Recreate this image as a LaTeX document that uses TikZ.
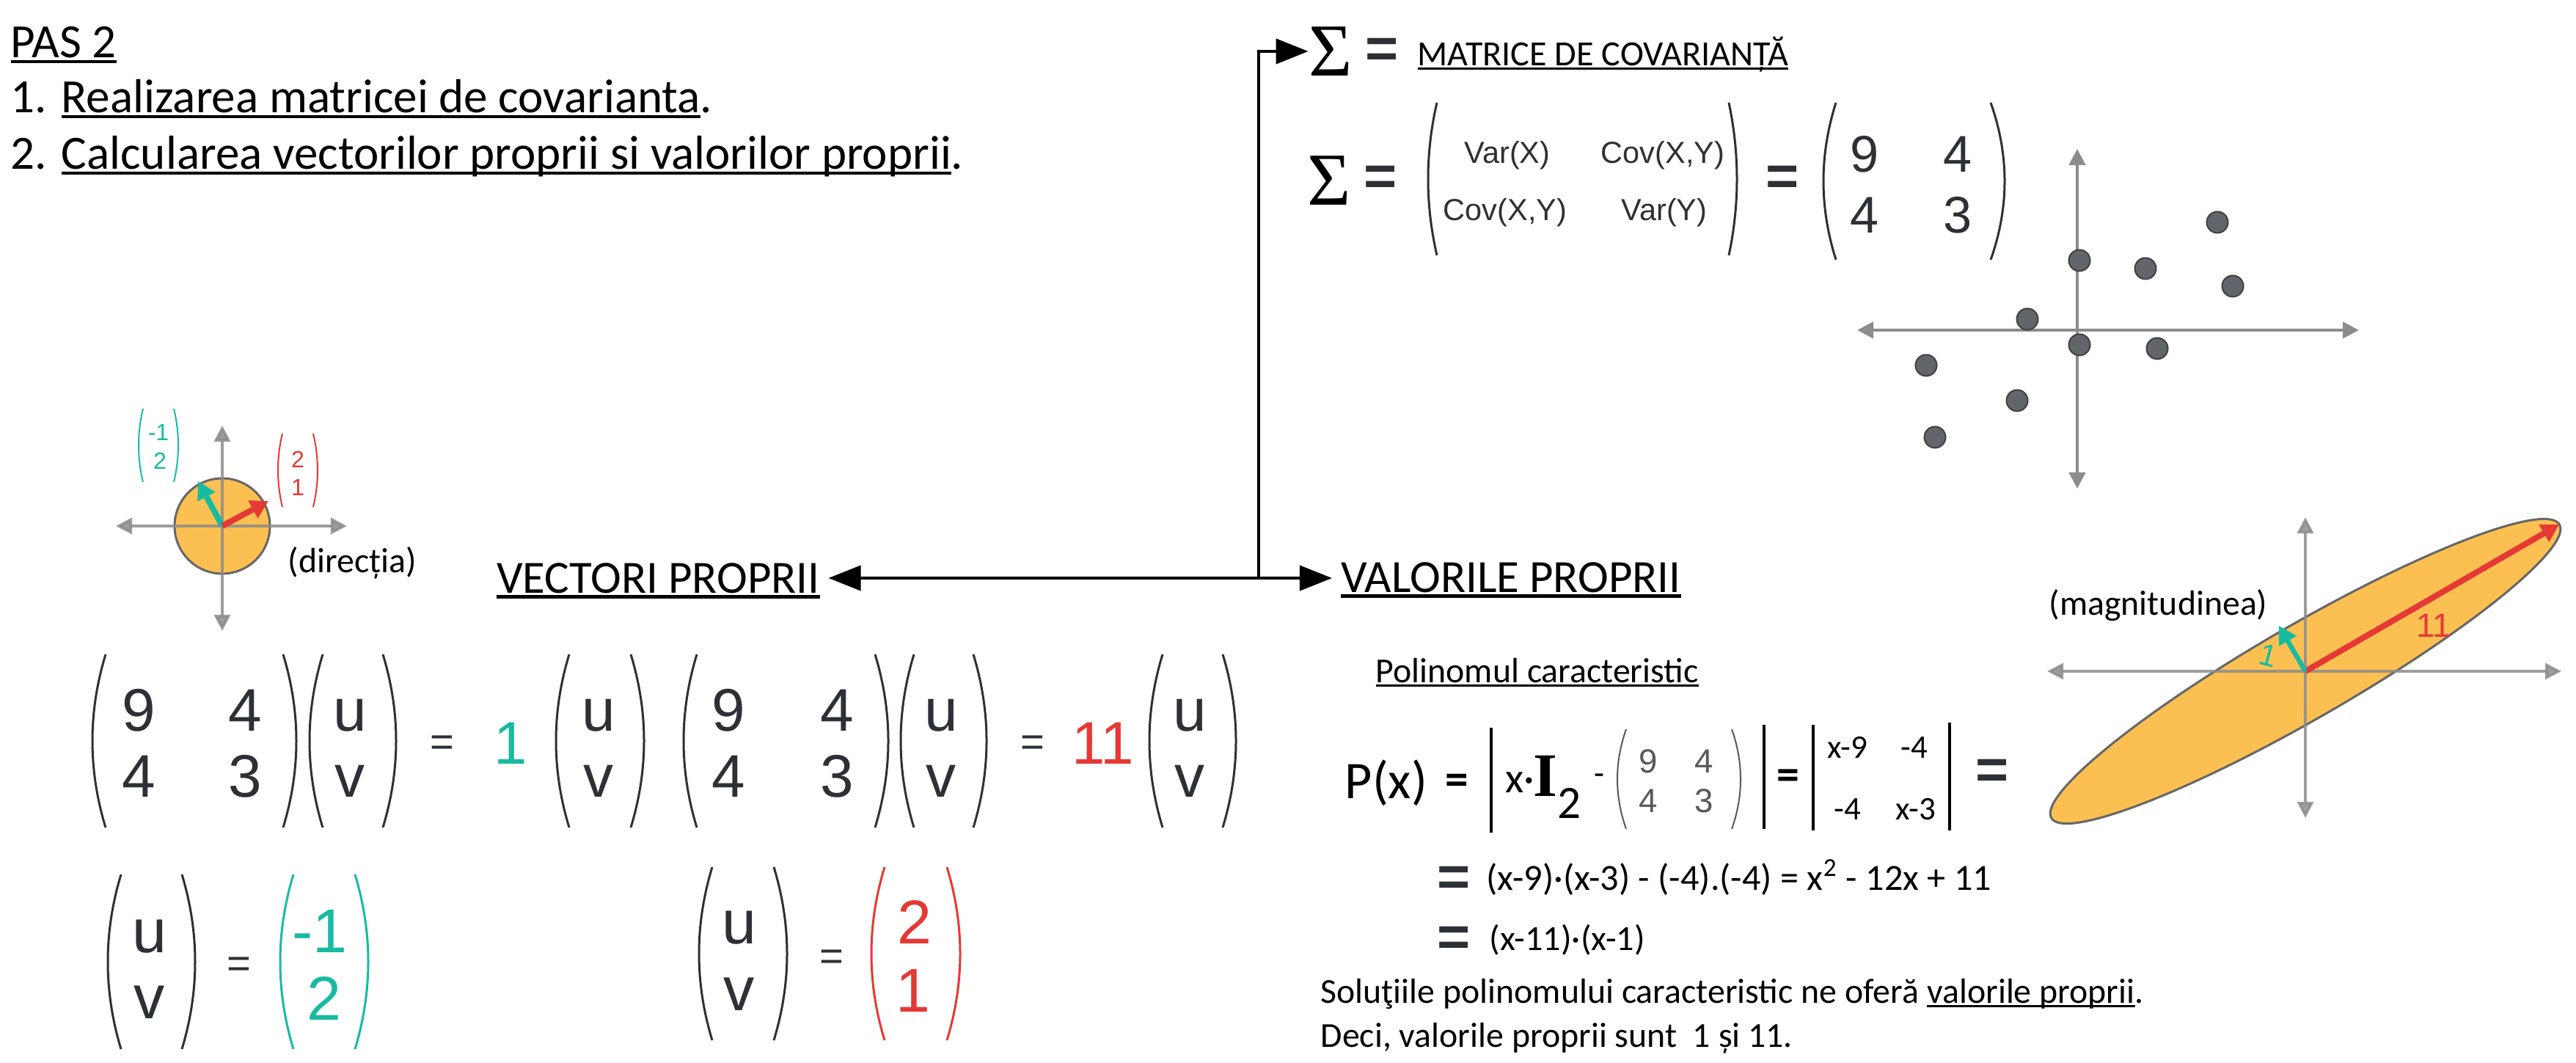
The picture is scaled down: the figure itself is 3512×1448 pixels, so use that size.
\documentclass[tikz,border=0pt]{standalone}
\usepackage{fontspec}
\setmainfont{Carlito}
\newfontfamily\helv{Liberation Sans}
\newfontfamily\tnr{Liberation Serif}
\usepackage{tikz}
\usetikzlibrary{arrows.meta, positioning}
\definecolor{ink}{RGB}{45,48,53}
\definecolor{tealv}{RGB}{24,187,160}
\definecolor{redv}{RGB}{229,57,53}
\definecolor{orng}{RGB}{252,192,82}
\definecolor{axg}{RGB}{140,140,140}
\definecolor{dotg}{RGB}{98,102,107}
\newcommand{\setfs}[1]{\fontsize{#1}{#1}\selectfont}
\newcommand{\undl}[1]{\setbox0\hbox{#1}\rlap{\rule[-0.13em]{\wd0}{0.075em}}\box0}
% paren: x of the bulge, centre y, half height, bulge (+ for "(", - for ")")
\newcommand{\brk}[5][]{\draw[line width=0.03cm, ink, #1] ({#2+(#5)},{#3-(#4)}) .. controls ({#2-(#5)/3},{#3-(#4)/3}) and ({#2-(#5)/3},{#3+(#4)/3}) .. ({#2+(#5)},{#3+(#4)});}
\tikzstyle{lbl} = [inner sep=0pt, anchor=base west]
\tikzstyle{hd} = [lbl, font=\setfs{18.5}]
\tikzstyle{ttl} = [lbl, font=\setfs{17.9}, outer xsep=0.12cm]
\tikzstyle{note} = [lbl, font=\setfs{13.6}]
\tikzstyle{ent} = [inner sep=0pt, anchor=base, text=ink, font=\helv\setfs{23.3}]
\tikzstyle{cov} = [ent, font=\helv\setfs{11.8}]
\tikzstyle{sment} = [ent, text=black!65, font=\helv\setfs{13}]
\tikzstyle{eqs} = [inner sep=0pt, text=ink, font=\helv\setfs{16}]
\tikzstyle{bigeq} = [inner sep=0pt, text=ink, font=\helv\bfseries\setfs{22}]
\tikzstyle{sig} = [inner sep=0pt, font=\tnr\setfs{29}]
\tikzstyle{link} = [line width=0.04cm, >={Triangle[length=0.44cm, width=0.34cm]}]
\tikzstyle{ax} = [axg, line width=0.045cm, <->, >={Triangle[length=0.22cm, width=0.22cm]}]
\tikzstyle{vec} = [line width=0.08cm, ->, >={Triangle[length=0.24cm, width=0.26cm]}]
\tikzstyle{sdot} = [circle, fill=dotg, draw=black!75, line width=0.02cm, minimum size=0.29cm, inner sep=0pt]

\begin{document}
\begin{tikzpicture}[x=0.01cm, y=-0.01cm]
	\fill[white] (0,0) rectangle (3512,1448);
	\useasboundingbox (0,0) rectangle (3512,1448);
	% header
	\node[hd] (pas) at (14,78) {\undl{PAS 2}};
	\node[hd] (st1) at (14,153) {1. \undl{Realizarea matricei de covarianta}.};
	\node[hd] (st2) at (14,230) {2. \undl{Calcularea vectorilor proprii si valorilor proprii}.};
	% titles and links
	\node[ttl] (vp) at (665,808) {\undl{VECTORI PROPRII}};
	\node[ttl] (val) at (1816,807) {\undl{VALORILE PROPRII}};
	\node[sig] (sigA) at (1814,70) {Σ};
	\node[bigeq] (eqA) at (1884,72) {=};
	\node[lbl, font=\setfs{13.7}] (covttl) at (1932,89) {\undl{MATRICE DE COVARIANȚĂ}};
	\coordinate (split) at (1716,788);
	\draw[link, <->] (vp.east |- split) -- (val.west |- split); % vectori <-> valori
	\draw[link, ->] (split) |- (sigA); % up to the covariance matrix
	% covariance matrix
	\node[sig] (sigB) at (1812,246) {Σ};
	\node[bigeq] (eqB) at (1882,246) {=};
	\brk{1947}{244}{104}{12} \brk{2368}{244}{104}{-11}
	\node[cov] (var1) at (2055,222) {Var(X)};
	\node[cov] (cov1) at (2267,222) {Cov(X,Y)};
	\node[cov] (cov2) at (2052,300) {Cov(X,Y)};
	\node[cov] (var2) at (2269,300) {Var(Y)};
	\node[bigeq] (eqC) at (2430,246) {=};
	\brk{2486}{247}{107}{17} \brk{2733}{247}{107}{-19}
	\node[ent, font=\helv\setfs{20}] (c11) at (2542,234) {9};
	\node[ent, font=\helv\setfs{20}] (c12) at (2669,234) {4};
	\node[ent, font=\helv\setfs{20}] (c21) at (2542,317) {4};
	\node[ent, font=\helv\setfs{20}] (c22) at (2669,317) {3};
	% scatter
	\draw[ax] (2532,450) -- (3216,450);
	\draw[ax] (2832,203) -- (2832,666);
	\foreach \x/\y [count=\i] in {3023/303, 2835/355, 2925/366, 3044/390, 2764/435, 2835/470, 2941/475, 2626/498, 2750/546, 2638/596}
		\node[sdot] (d\i) at (\x,\y) {};
	% unit circle with the two directions
	\coordinate (o1) at (303,717);
	\draw[black!60, fill=orng, line width=0.03cm] (o1) circle [radius=65];
	\draw[ax, opacity=0.85, line width=0.04cm] (158,717) -- (473,717);
	\draw[ax, opacity=0.85, line width=0.04cm] (303,580) -- (303,860);
	\draw[vec, tealv] (o1) -- (270,656);
	\draw[vec, redv] (o1) -- (366,683);
	\brk[tealv, line width=0.02cm]{189}{607}{50}{6} \brk[tealv, line width=0.02cm]{243}{607}{50}{-6}
	\node[ent, text=tealv, font=\helv\setfs{9.1}] (t1) at (216,600) {-1};
	\node[ent, text=tealv, font=\helv\setfs{9.1}] (t2) at (218,639) {2};
	\brk[redv, line width=0.02cm]{379}{641}{50}{6} \brk[redv, line width=0.02cm]{433}{641}{50}{-6}
	\node[ent, text=redv, font=\helv\setfs{9.1}] (r1) at (406,637) {2};
	\node[ent, text=redv, font=\helv\setfs{9.1}] (r2) at (406,675) {1};
	\node[note] (dir) at (392,780) {(direcția)};
	% eigen equations
	\brk{126}{1010}{118}{18} \brk{404}{1010}{118}{-18}
	\node[ent] (a11) at (189,996) {9};
	\node[ent] (a12) at (334,996) {4};
	\node[ent] (a21) at (189,1086) {4};
	\node[ent] (a22) at (334,1086) {3};
	\brk{422}{1010}{118}{18} \brk{540}{1010}{118}{-18}
	\node[ent] (u1) at (477,996) {u};
	\node[ent] (v1) at (477,1086) {v};
	\node[eqs] (eq1) at (603,1017) {=};
	\node[ent, text=tealv] (lam1) at (696,1041) {1};
	\brk{758}{1010}{118}{18} \brk{878}{1010}{118}{-18}
	\node[ent] (u2) at (816,996) {u};
	\node[ent] (v2) at (816,1086) {v};
	\brk{932}{1010}{118}{18} \brk{1211}{1010}{118}{-18}
	\node[ent] (b11) at (993,996) {9};
	\node[ent] (b12) at (1141,996) {4};
	\node[ent] (b21) at (993,1086) {4};
	\node[ent] (b22) at (1141,1086) {3};
	\brk{1228}{1010}{118}{18} \brk{1345}{1010}{118}{-18}
	\node[ent] (u3) at (1283,996) {u};
	\node[ent] (v3) at (1283,1086) {v};
	\node[eqs] (eq2) at (1408,1017) {=};
	\node[ent, text=redv] (lam2) at (1504,1041) {11};
	\brk{1567}{1010}{118}{18} \brk{1685}{1010}{118}{-18}
	\node[ent] (u4) at (1622,996) {u};
	\node[ent] (v4) at (1622,1086) {v};
	% eigenvectors
	\brk{147}{1311}{119}{18} \brk{266}{1311}{119}{-18}
	\node[ent, font=\helv\setfs{24}] (u5) at (204,1298) {u};
	\node[ent, font=\helv\setfs{24}] (v5) at (204,1388) {v};
	\node[eqs] (eq3) at (326,1319) {=};
	\brk[tealv]{382}{1311}{119}{18} \brk[tealv]{502}{1311}{119}{-18}
	\node[ent, text=tealv, font=\helv\setfs{24}] (e11) at (436,1298) {-1};
	\node[ent, text=tealv, font=\helv\setfs{24}] (e12) at (442,1390) {2};
	\brk{953}{1300}{118}{18} \brk{1073}{1300}{118}{-18}
	\node[ent, font=\helv\setfs{24}] (u6) at (1008,1286) {u};
	\node[ent, font=\helv\setfs{24}] (v6) at (1008,1377) {v};
	\node[eqs] (eq4) at (1134,1309) {=};
	\brk[redv]{1188}{1300}{118}{18} \brk[redv]{1309}{1300}{118}{-18}
	\node[ent, text=redv, font=\helv\setfs{24}] (e21) at (1247,1286) {2};
	\node[ent, text=redv, font=\helv\setfs{24}] (e22) at (1245,1379) {1};
	% characteristic polynomial
	\node[note] (pol) at (1875,930) {\undl{Polinomul caracteristic}};
	\node[lbl, font=\setfs{20.5}] (px) at (1833,1088) {P(x)};
	\node[inner sep=0pt, font=\bfseries\setfs{18}] (eqP) at (1986,1069) {=};
	\draw[line width=0.04cm] (2033,992) -- (2033,1135);
	\node[lbl, font=\setfs{16.5}] (xd) at (2052,1080) {x·};
	\node[inner sep=0pt, font=\tnr\bfseries\setfs{24}] (Id) at (2107,1058) {I};
	\node[inner sep=0pt, font=\setfs{18}] (two) at (2140,1095) {2};
	\node[inner sep=0pt, font=\setfs{13}] (mn) at (2180,1062) {-};
	\brk[black!65, line width=0.02cm]{2205}{1062}{68}{12} \brk[black!65, line width=0.02cm]{2373}{1062}{68}{-12}
	\node[sment] (p11) at (2247,1053) {9};
	\node[sment] (p12) at (2323,1053) {4};
	\node[sment] (p21) at (2247,1107) {4};
	\node[sment] (p22) at (2323,1107) {3};
	\draw[line width=0.04cm] (2405,988) -- (2405,1130);
	\node[inner sep=0pt, font=\bfseries\setfs{17.6}] (eqD) at (2438,1063) {=};
	\draw[line width=0.04cm] (2472,988) -- (2472,1132);
	\node[inner sep=0pt, anchor=base, font=\setfs{12.8}] (q11) at (2519,1033) {x-9};
	\node[inner sep=0pt, anchor=base, font=\setfs{12.8}] (q12) at (2610,1033) {-4};
	\node[inner sep=0pt, anchor=base, font=\setfs{12.8}] (q21) at (2519,1117) {-4};
	\node[inner sep=0pt, anchor=base, font=\setfs{12.8}] (q22) at (2612,1117) {x-3};
	\draw[line width=0.04cm] (2658,985) -- (2658,1132);
	\node[bigeq] (eqE) at (2716,1055) {=};
	\node[bigeq] (eqF1) at (1982,1201) {=};
	\node[lbl, font=\setfs{14.3}] (f1) at (2026,1213) {(x-9)·(x-3) - (-4).(-4) = x\textsuperscript{2} - 12x + 11};
	\node[bigeq] (eqF2) at (1982,1283) {=};
	\node[lbl, font=\setfs{13.7}] (f2) at (2030,1295) {(x-11)·(x-1)};
	\node[note] (sol) at (1800,1367) {Soluţiile polinomului caracteristic ne oferă \undl{valorile proprii}.};
	\node[note] (deci) at (1800,1427) {Deci, valorile proprii sunt\ \ 1 și 11.};
	% ellipse with the two magnitudes
	\coordinate (o2) at (3143,915);
	\draw[black!60, fill=orng, line width=0.03cm, rotate around={30:(o2)}] (o2) ellipse [x radius=400, y radius=64];
	\draw[ax, opacity=0.85, line width=0.035cm] (2791,915) -- (3492,915);
	\draw[ax, opacity=0.85, line width=0.035cm] (3143,705) -- (3143,1115);
	\draw[vec, redv] (o2) -- (3489,715);
	\draw[vec, tealv, line width=0.065cm] (o2) -- (3107,853);
	\node[inner sep=0pt, text=tealv, font=\helv\setfs{12}, rotate=-15] (one) at (3093,893) {1};
	\node[inner sep=0pt, text=redv, font=\helv\setfs{13}] (eleven) at (3318,853) {11};
	\node[note] (mag) at (2793,838) {(magnitudinea)};
\end{tikzpicture}
\end{document}
